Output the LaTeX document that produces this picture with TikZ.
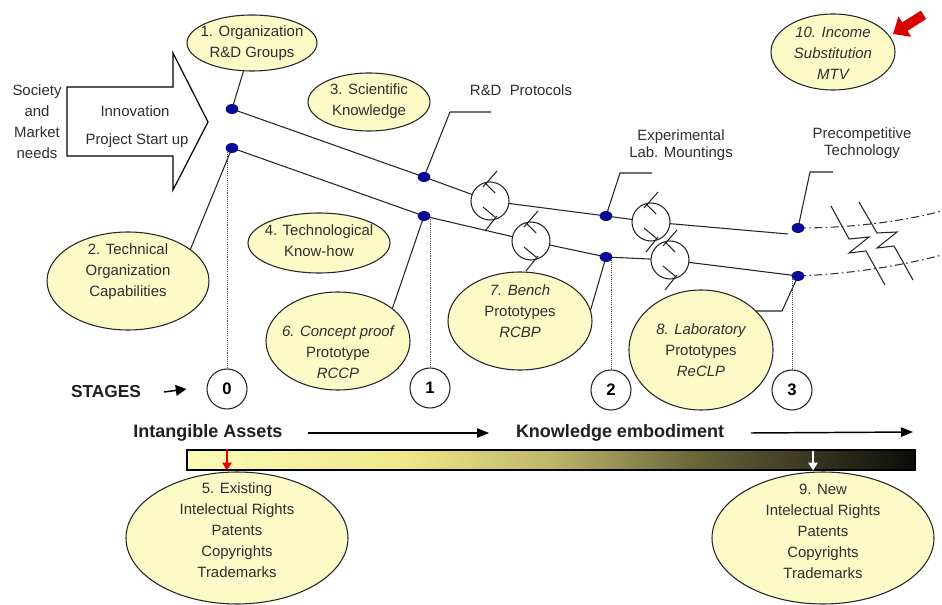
\documentclass[tikz,border=0pt]{standalone}
\usepackage{fontspec}
\setmainfont{Liberation Sans}
\usetikzlibrary{shapes.geometric,arrows.meta}
\definecolor{ellfill}{RGB}{252,250,198}
\definecolor{dotblue}{RGB}{10,10,150}
\definecolor{barA}{RGB}{252,250,185}
\definecolor{barB}{RGB}{238,232,135}
\definecolor{barC}{RGB}{190,182,105}
\definecolor{barD}{RGB}{105,100,58}
\definecolor{barE}{RGB}{12,12,10}
\pgfdeclarehorizontalshading{kbar}{100bp}{color(0bp)=(barA); color(25bp)=(barA); color(40bp)=(barB); color(50bp)=(barC); color(60bp)=(barD); color(75bp)=(barE); color(100bp)=(barE)}
\tikzset{
  valvesym/.pic={
    \draw[draw=black!85, line width=0.8pt, fill=white] (0,0) circle [radius=19];
    \draw[draw=black!85, line width=0.8pt] (7,-30) -- (-7,-14) (-5,-18) -- (5,-8) (-7,6) -- (5,16) (7,15) -- (-5,30);
  }
}
\begin{document}
\begin{tikzpicture}[x=0.75pt,y=-0.75pt,
  ell/.style={ellipse, draw=black!85, line width=0.8pt, fill=ellfill, inner sep=0pt},
  txt/.style={align=center, inner sep=0pt, text=black!82, font=\fontsize{11.2}{15.8}\selectfont},
  bld/.style={inner sep=0pt, text=black!88, font=\bfseries\fontsize{13.5}{16}\selectfont},
  dotn/.style={ellipse, fill=dotblue, minimum width=9.5pt, minimum height=7.5pt, inner sep=0pt},
  stage/.style={circle, draw=black!85, line width=0.8pt, minimum size=30pt, inner sep=0pt, font=\bfseries\fontsize{12.5}{14}\selectfont},
  pipe/.style={draw=black!85, line width=0.8pt},
  dline/.style={draw=black!70, line width=0.5pt, dash pattern=on 0.8pt off 0.8pt},
  ddot/.style={draw=black!80, line width=0.8pt, dash pattern=on 6pt off 2.5pt on 1.2pt off 2.5pt},
  arr/.style={draw=black, line width=1.1pt, -{Triangle[length=9pt,width=7pt]}}
]
\useasboundingbox (0,0) rectangle (942,605);
\clip (0,0) rectangle (942,605);
\fill[white] (0,0) rectangle (942,605);

% big input arrow
\draw[draw=black, line width=0.9pt, fill=white] (67,87) -- (173,87) -- (173,53) -- (208,122) -- (173,190) -- (173,156) -- (67,156) -- cycle;
\node[txt] (soc) at (37,122) {Society\\and\\Market\\needs};
\node[txt] (inno) at (135,111) {Innovation};
\node[txt] (proj) at (137,141) {Project Start up};

% junction points
\coordinate (A) at (232,109);
\coordinate (B) at (232,148);
\coordinate (C) at (424,177);
\coordinate (D) at (424,216);
\coordinate (E) at (606,216);
\coordinate (F) at (606,257);
\coordinate (G) at (798,228);
\coordinate (H) at (798,276);
\coordinate (Gend) at (788,234);
\coordinate (v1) at (490,201);
\coordinate (v2) at (531,241);
\coordinate (v3) at (651,222);
\coordinate (v4) at (670,260);

% ellipses
\node[ell, minimum width=97.5pt, minimum height=42pt] (e1) at (252,43) {};
\node[txt] (t1) at (252,43) {1. Organization\\R\&D Groups};
\node[ell, minimum width=121.5pt, minimum height=73.5pt] (e2) at (128,281) {};
\node[txt] (t2) at (128,272) {2. Technical\\Organization\\Capabilities};
\node[ell, minimum width=91.5pt, minimum height=43.5pt] (e3) at (369,102) {};
\node[txt] (t3) at (369,101) {3. Scientific\\Knowledge};
\node[ell, minimum width=106.5pt, minimum height=45pt] (e4) at (319,243) {};
\node[txt] (t4) at (319,241) {4. Technological\\Know-how};
\node[ell, minimum width=108pt, minimum height=73.5pt] (e6) at (338,341) {};
\node[txt] (t6) at (338,352) {\itshape 6. Concept proof\\Prototype\\\itshape RCCP};
\node[ell, minimum width=108pt, minimum height=73.5pt] (e7) at (520,321) {};
\node[txt] (t7) at (520,311) {\itshape 7. Bench\\Prototypes\\\itshape RCBP};
\node[ell, minimum width=108pt, minimum height=90pt] (e8) at (701,350) {};
\node[txt] (t8) at (701,350) {\itshape 8. Laboratory\\Prototypes\\\itshape ReCLP};
\node[ell, minimum width=93pt, minimum height=57pt] (e10) at (833,52) {};
\node[txt, font=\itshape\fontsize{11.2}{15.8}\selectfont] (t10) at (833,53) {10. Income\\Substitution\\MTV};
\node[ell, minimum width=166.5pt, minimum height=99pt] (e5) at (237,538) {};
\node[txt] (t5) at (237,530) {5. Existing\\Intelectual Rights\\Patents\\Copyrights\\Trademarks};
\node[ell, minimum width=166.5pt, minimum height=99pt] (e9) at (823,538) {};
\node[txt] (t9) at (823,531) {9. New\\Intelectual Rights\\Patents\\Copyrights\\Trademarks};

% pipes
\draw[pipe] (A) -- (C) -- (v1) -- (E) -- (v3) -- (Gend);
\draw[pipe] (B) -- (D) -- (v2) -- (F) -- (v4) -- (H);
\draw[ddot] (G) .. controls (850,228) and (900,222) .. (942,211);
\draw[ddot] (H) .. controls (850,274) and (900,266) .. (942,255);
\pic at (v1) {valvesym};
\pic at (v2) {valvesym};
\pic at (v3) {valvesym};
\pic at (v4) {valvesym};

% break symbol
\draw[pipe] (831,206) -- (849,239) -- (869,237) -- (849,253) -- (866,251) -- (885,285);
\draw[pipe] (859,202) -- (877,233) -- (897,232) -- (877,248) -- (894,246) -- (913,280);

% labels with leaders
\node[txt] (rdp) at (521,90) {R\&D\ \ Protocols};
\node[txt] (exp) at (681,145) {Experimental\\[-3.5pt]Lab. Mountings};
\node[txt] (pre) at (862,143) {Precompetitive\\[-3.5pt]Technology};
\coordinate (rL1) at (450,112);
\coordinate (rL2) at (491,112);
\coordinate (xL1) at (620,173);
\coordinate (xL2) at (652,173);
\coordinate (pL1) at (810,172);
\coordinate (pL2) at (833,172);
\coordinate (hL1) at (782,311);
\coordinate (hL2) at (756,311);
\draw[pipe] (C) -- (rL1) -- (rL2);
\draw[pipe] (E) -- (xL1) -- (xL2);
\draw[pipe] (G) -- (pL1) -- (pL2);
\draw[pipe] (H) -- (hL1) -- (hL2);
\draw[pipe] (A) -- (e1);
\draw[pipe] (B) -- (e2.27);
\draw[pipe] (D) -- (e6.31);
\draw[pipe] (F) -- (e7.9);

% stages
\node[stage] (s0) at (227,389) {0};
\node[stage] (s1) at (430,388) {1};
\node[stage] (s2) at (611,390) {2};
\node[stage] (s3) at (792,390) {3};
\draw[dline] (s0.north) -- (s0.north |- B);
\draw[dline] (s1.north) -- (s1.north |- D);
\draw[dline] (s2.north) -- (s2.north |- F);
\draw[dline] (s3.north) -- (s3.north |- H);

% dots
\foreach \p in {A,B,C,D,E,F,G,H} \node[dotn] (dot\p) at (\p) {};

\node[bld, font=\bfseries\fontsize{13}{16}\selectfont] (stg) at (106,392) {STAGES};
\draw[draw=black, line width=1.1pt, -{Triangle[length=8pt,width=8pt]}] ([xshift=17pt]stg.east) -- ([xshift=-15pt]s0.west);

% knowledge axis
\node[bld] (ia) at (208,433) {Intangible Assets};
\node[bld] (ke) at (620,433) {Knowledge embodiment};
\coordinate (kEnd) at (913,432);
\draw[arr] ([xshift=19pt]ia.east) -- ([xshift=-20pt]ke.west);
\draw[arr] ([xshift=20pt]ke.east) -- (kEnd);

\node[shade, shading=kbar, draw=black, line width=0.8pt, minimum width=546pt, minimum height=15pt, inner sep=0pt] (bar) at (551,460) {};
\draw[draw=red!90!black, line width=1pt, -{Triangle[length=6pt,width=7pt]}] (bar.north -| s0) -- (bar.south -| s0);
\coordinate (wA) at (813,451);
\draw[draw=white, line width=1pt, -{Triangle[length=6pt,width=7pt]}] (wA) -- (wA |- bar.south);

% red pointer arrow
\fill[red!85!black] (893,34) -- (911.3,36.8) -- (907.5,30.8) -- (926.1,19.1) -- (920.9,10.7) -- (902.2,22.4) -- (898.5,16.4) -- cycle;
\end{tikzpicture}
\end{document}
